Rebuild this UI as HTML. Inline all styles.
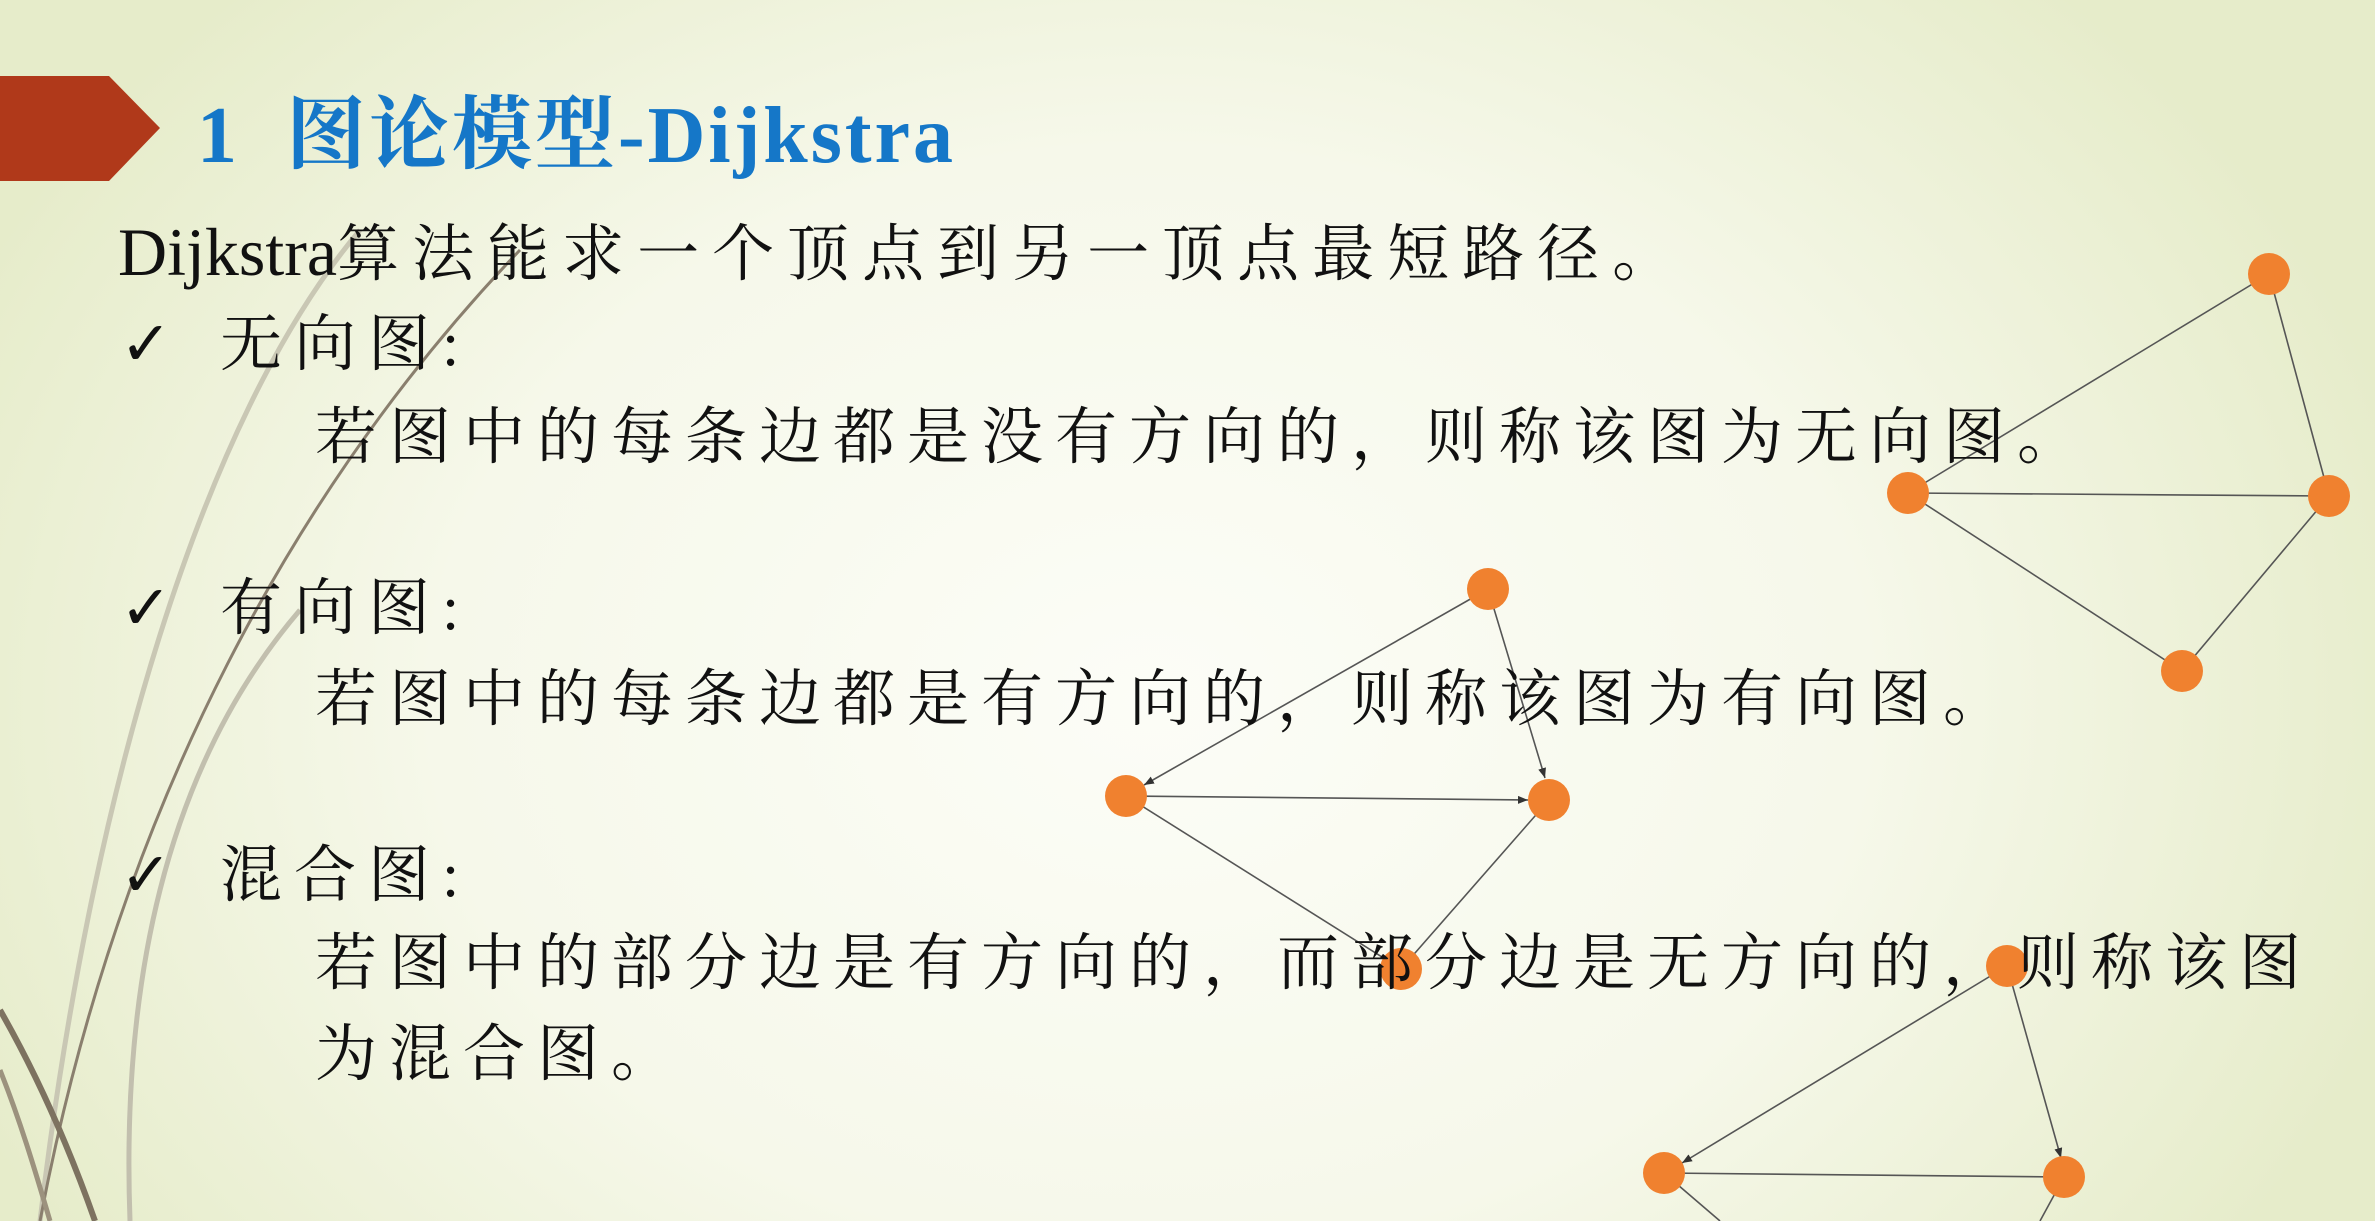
<!DOCTYPE html>
<html><head><meta charset="utf-8"><style>
html,body{margin:0;padding:0}
body{width:2375px;height:1221px;overflow:hidden;position:relative;
background:radial-gradient(ellipse 1300px 1000px at 1150px 700px,#fcfdf7 0%,#f6f8ea 55%,#e6ecca 100%);}
.t{position:absolute;white-space:nowrap;font-family:"Liberation Serif","Noto Serif CJK SC",serif;color:#111;font-size:62px;letter-spacing:12px;line-height:1}
.ck{font-family:"DejaVu Sans",sans-serif;font-weight:bold;font-size:62px;letter-spacing:0;display:inline-block;width:100px}
svg{position:absolute;left:0;top:0}
</style></head><body>
<svg width="2375" height="1221">
<g fill="none">
<path d="M360 230 C200 420 90 800 40 1221" stroke="#c9c7b4" stroke-width="5"/>
<path d="M520 250 C300 480 120 800 40 1221" stroke="#8a7f6e" stroke-width="3"/>
<path d="M300 610 C180 750 120 950 130 1221" stroke="#c2bfae" stroke-width="5"/>
<path d="M0 1010 C40 1080 70 1150 95 1221" stroke="#7d7260" stroke-width="6"/>
<path d="M0 1070 C20 1120 35 1170 50 1221" stroke="#9c927e" stroke-width="5"/>
</g>
<polygon points="0,76 109,76 160,128 109,181 0,181" fill="#b0391a"/>
<defs><marker id="a" markerWidth="10" markerHeight="8" refX="10" refY="4" orient="auto" markerUnits="userSpaceOnUse"><path d="M0,0 L10,4 L0,8z" fill="#333"/></marker></defs>
<g stroke="#555" stroke-width="1.6">
<line x1="2269" y1="274" x2="1908" y2="493"/><line x1="2269" y1="274" x2="2329" y2="496"/>
<line x1="1908" y1="493" x2="2329" y2="496"/><line x1="1908" y1="493" x2="2182" y2="671"/>
<line x1="2329" y1="496" x2="2182" y2="671"/>
<line x1="1488" y1="589" x2="1144" y2="785" marker-end="url(#a)"/>
<line x1="1488" y1="589" x2="1545" y2="778" marker-end="url(#a)"/>
<line x1="1126" y1="796" x2="1528" y2="800" marker-end="url(#a)"/>
<line x1="1126" y1="796" x2="1401" y2="969"/><line x1="1549" y1="800" x2="1401" y2="969"/>
<line x1="2007" y1="966" x2="1682" y2="1163" marker-end="url(#a)"/>
<line x1="2007" y1="966" x2="2061" y2="1158" marker-end="url(#a)"/>
<line x1="1664" y1="1173" x2="2064" y2="1177"/>
<line x1="1664" y1="1173" x2="1720" y2="1221"/><line x1="2064" y1="1177" x2="2040" y2="1221"/>
</g>
<g fill="#f0812f">
<circle cx="2269" cy="274" r="21"/><circle cx="1908" cy="493" r="21"/><circle cx="2329" cy="496" r="21"/><circle cx="2182" cy="671" r="21"/>
<circle cx="1488" cy="589" r="21"/><circle cx="1126" cy="796" r="21"/><circle cx="1549" cy="800" r="21"/><circle cx="1401" cy="969" r="21"/>
<circle cx="2007" cy="966" r="21"/><circle cx="1664" cy="1173" r="21"/><circle cx="2064" cy="1177" r="21"/>
</g>
</svg>
<div class="t" style="left:197px;top:96px;color:#1577c8;font-weight:bold;font-size:80px;letter-spacing:3px">1&nbsp; 图论模型-Dijkstra</div>
<div class="t" style="left:118px;top:218px;letter-spacing:13px"><span style="letter-spacing:0;font-size:68px">Dijkstra</span>算法能求一个顶点到另一顶点最短路径。</div>
<div class="t" style="left:120px;top:313px"><span class="ck">✓</span>无向图:</div>
<div class="t" style="left:315px;top:407px">若图中的每条边都是没有方向的，则称该图为无向图。</div>
<div class="t" style="left:120px;top:577px"><span class="ck">✓</span>有向图:</div>
<div class="t" style="left:315px;top:669px">若图中的每条边都是有方向的，则称该图为有向图。</div>
<div class="t" style="left:120px;top:844px"><span class="ck">✓</span>混合图:</div>
<div class="t" style="left:315px;top:933px">若图中的部分边是有方向的，而部分边是无方向的，则称该图</div>
<div class="t" style="left:315px;top:1024px">为混合图。</div>
</body></html>
